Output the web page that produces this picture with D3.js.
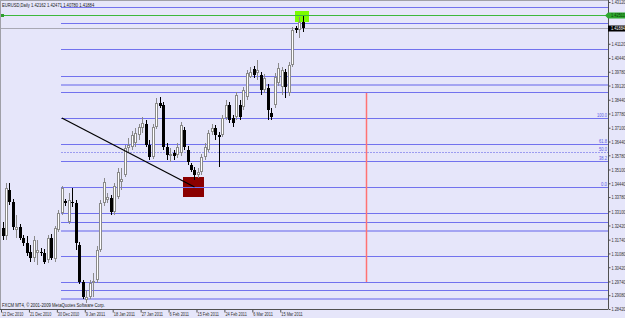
<!DOCTYPE html>
<html>
<head>
<meta charset="utf-8">
<script src="https://cdn.jsdelivr.net/npm/d3@7"></script>
<style>
  body { margin: 0; background: #e6e6fa; }
  svg { display: block; font-family: "Liberation Sans", Arial, sans-serif; }
</style>
</head>
<body>
<div id="container"></div>
<script>
// EURUSD daily bars, 12 Dec 2010 .. 22 Mar 2011 (FXCM, with Sunday bars)
const opens = [1.3230,1.3192,1.3412,1.3354,1.3220,1.3235,1.3182,1.3158,1.3115,1.3086,1.3110,1.3115,1.3110,1.3077,1.3182,1.3081,1.3220,1.3302,1.3359,1.3259,1.3354,1.3350,1.3149,1.2971,1.2885,1.2899,1.2966,1.2981,1.3125,1.3350,1.3364,1.3374,1.3306,1.3378,1.3450,1.3484,1.3613,1.3618,1.3637,1.3675,1.3709,1.3728,1.3627,1.3570,1.3714,1.3829,1.3819,1.3618,1.3575,1.3589,1.3580,1.3589,1.3699,1.3604,1.3532,1.3508,1.3484,1.3498,1.3570,1.3604,1.3690,1.3709,1.3675,1.3675,1.3757,1.3819,1.3757,1.3762,1.3819,1.3809,1.3857,1.3953,1.3991,1.3972,1.3963,1.3891,1.3901,1.3781,1.3819,1.3924,1.3905,1.3977,1.3877,1.4011,1.4188,1.4178,1.4216];
const highs = [1.3259,1.3445,1.3445,1.3369,1.3292,1.3249,1.3196,1.3192,1.3149,1.3192,1.3172,1.3134,1.3129,1.3196,1.3201,1.3239,1.3316,1.3431,1.3369,1.3398,1.3422,1.3364,1.3163,1.2981,1.2933,1.2981,1.3014,1.3144,1.3364,1.3469,1.3398,1.3388,1.3445,1.3517,1.3517,1.3627,1.3661,1.3695,1.3709,1.3728,1.3762,1.3747,1.3651,1.3728,1.3853,1.3857,1.3833,1.3637,1.3613,1.3604,1.3637,1.3738,1.3714,1.3623,1.3541,1.3522,1.3517,1.3584,1.3637,1.3699,1.3728,1.3723,1.3690,1.3771,1.3843,1.3833,1.3771,1.3881,1.3843,1.3905,1.3987,1.4001,1.4006,1.4035,1.3977,1.3968,1.3920,1.3805,1.3972,1.4020,1.4001,1.3991,1.4025,1.4193,1.4197,1.4241,1.4247];
const lows = [1.3172,1.3172,1.3340,1.3220,1.3182,1.3172,1.3144,1.3096,1.3067,1.3067,1.3053,1.3096,1.3057,1.3062,1.3077,1.3067,1.3211,1.3292,1.3335,1.3249,1.3330,1.3125,1.2962,1.2890,1.2871,1.2890,1.2899,1.2966,1.3115,1.3335,1.3350,1.3292,1.3292,1.3369,1.3412,1.3474,1.3594,1.3604,1.3618,1.3651,1.3685,1.3618,1.3556,1.3560,1.3704,1.3805,1.3604,1.3556,1.3546,1.3556,1.3565,1.3575,1.3604,1.3532,1.3498,1.3460,1.3469,1.3484,1.3556,1.3594,1.3675,1.3651,1.3522,1.3666,1.3747,1.3733,1.3714,1.3747,1.3747,1.3795,1.3843,1.3948,1.3948,1.3939,1.3867,1.3877,1.3747,1.3747,1.3805,1.3910,1.3867,1.3853,1.3862,1.4001,1.4164,1.4140,1.4169];
const closes = [1.3192,1.3422,1.3354,1.3235,1.3235,1.3182,1.3158,1.3110,1.3086,1.3172,1.3125,1.3110,1.3067,1.3182,1.3086,1.3230,1.3302,1.3422,1.3350,1.3364,1.3350,1.3158,1.2971,1.2899,1.2899,1.2966,1.2976,1.3125,1.3350,1.3450,1.3378,1.3306,1.3431,1.3498,1.3465,1.3613,1.3627,1.3675,1.3685,1.3714,1.3733,1.3627,1.3570,1.3714,1.3829,1.3814,1.3618,1.3580,1.3584,1.3575,1.3618,1.3723,1.3618,1.3546,1.3508,1.3484,1.3498,1.3570,1.3618,1.3685,1.3709,1.3675,1.3666,1.3757,1.3819,1.3747,1.3733,1.3867,1.3762,1.3891,1.3972,1.3977,1.3963,1.3987,1.3891,1.3948,1.3795,1.3762,1.3953,1.3996,1.3987,1.3905,1.4011,1.4178,1.4178,1.4217,1.4188];

const dateLabels = ['12 Dec 2010', '21 Dec 2010', '30 Dec 2010', '9 Jan 2011', '18 Jan 2011', '27 Jan 2011',
  '6 Feb 2011', '15 Feb 2011', '24 Feb 2011', '6 Mar 2011', '15 Mar 2011'];
const labelBars = [0, 8, 16, 24, 32, 40, 48, 56, 64, 72, 80];

const priceTicks = [1.43120, 1.42460, 1.41780, 1.41120, 1.40440, 1.39780, 1.39120, 1.38440, 1.37780, 1.37100,
  1.36440, 1.35780, 1.35100, 1.34440, 1.33780, 1.33100, 1.32420, 1.31740, 1.31080, 1.30420, 1.29740, 1.29080, 1.28420];

// horizontal levels drawn on the chart
const levels = [1.4289, 1.4212, 1.4087, 1.3958, 1.3881, 1.3302, 1.3258, 1.3096, 1.2971, 1.2933];
const levelsLight = [1.3920, 1.3220, 1.2895];

// fibonacci retracement: 100 at first anchor, 0 at second
const fibAnchor1 = [17, 1.3757];
const fibAnchor2 = [55, 1.3426];
const fibRatios = [0, 0.382, 0.5, 0.618, 1];
const fibNames = ['0.0', '38.2', '50.0', '61.8', '100.0'];

const greenLine = 1.42511;
const bidPrice = 1.41884;
const redBox = [51.6, 57.6, 1.3474, 1.3378];
const greenBox = [83.8, 87.8, 1.4269, 1.4217];
const redVLine = [104, 1.3877, 1.2971];

const w = 625;
const h = 318;
const right = 608;
const bottom = 309;
const fs = 5.5;

// squeeze the tiny terminal font to the widths seen in the screenshot
function fit(sel, perChar) {
  sel.each(function () {
    const t = d3.select(this);
    const x = +t.attr('x') || 0;
    const target = this.textContent.length * perChar;
    const natural = this.getComputedTextLength();
    const s = natural > 0 ? Math.min(1, target / natural) : 1;
    t.attr('x', 0).attr('transform', `translate(${x},0) scale(${s},1)`);
  });
}

const svg = d3.select('#container').append('svg').attr('width', w).attr('height', h);

svg.append('rect').attr('width', w).attr('height', h).attr('fill', '#e6e6fa');

const xScale = d3.scaleLinear().domain([0, 86]).range([2.5, 302.7]);
const yScale = d3.scaleLinear().domain([1.2842, 1.4312]).range([bottom, 2]);
const px = v => Math.round(xScale(v));
const py = v => Math.round(yScale(v));

const chart = svg.append('g');

// rectangles sit behind the bars
chart.append('rect')
  .attr('x', px(redBox[0])).attr('y', py(redBox[2]))
  .attr('width', px(redBox[1]) - px(redBox[0]))
  .attr('height', py(redBox[3]) - py(redBox[2]))
  .attr('fill', '#8b0000');
chart.append('rect')
  .attr('x', px(greenBox[0])).attr('y', py(greenBox[2]))
  .attr('width', px(greenBox[1]) - px(greenBox[0]))
  .attr('height', py(greenBox[3]) - py(greenBox[2]))
  .attr('fill', '#7cfc00');

const x0 = px(fibAnchor1[0]) - 1;

chart.selectAll('.lvl')
  .data(levels)
  .enter()
  .append('line')
  .attr('class', 'lvl')
  .attr('x1', x0).attr('x2', right)
  .attr('y1', d => py(d) + 0.5).attr('y2', d => py(d) + 0.5)
  .attr('stroke', '#7272ee');

chart.selectAll('.lvl-light')
  .data(levelsLight)
  .enter()
  .append('line')
  .attr('class', 'lvl-light')
  .attr('x1', x0).attr('x2', right)
  .attr('y1', d => py(d) + 1).attr('y2', d => py(d) + 1)
  .attr('stroke', '#a4a4f2')
  .attr('stroke-width', 2);

const fibLevels = fibRatios.map(r => fibAnchor2[1] + r * (fibAnchor1[1] - fibAnchor2[1]));

chart.selectAll('.fib')
  .data(fibLevels)
  .enter()
  .append('line')
  .attr('class', 'fib')
  .attr('x1', x0).attr('x2', right)
  .attr('y1', d => py(d) + 0.5).attr('y2', d => py(d) + 0.5)
  .attr('stroke', (d, i) => (fibRatios[i] === 0.5 ? '#9c9cf0' : '#7272ee'))
  .attr('stroke-dasharray', (d, i) => (fibRatios[i] === 0.5 ? '2,1' : null));

const fibText = chart.selectAll('.fib-label')
  .data(fibLevels)
  .enter()
  .append('text')
  .attr('class', 'fib-label')
  .attr('x', right - 1)
  .attr('y', d => py(d) - 1)
  .attr('text-anchor', 'end')
  .attr('font-size', fs)
  .attr('fill', '#5a5ae6')
  .text((d, i) => fibNames[i]);
fit(fibText, 2);

// green horizontal line + bid line
chart.append('line')
  .attr('x1', 1).attr('x2', right)
  .attr('y1', py(greenLine) + 0.5).attr('y2', py(greenLine) + 0.5)
  .attr('stroke', '#3cb83c');
chart.append('rect')
  .attr('x', 1).attr('y', py(greenLine) - 1).attr('width', 3).attr('height', 3)
  .attr('fill', '#2e9e2e');
chart.append('line')
  .attr('x1', 1).attr('x2', right)
  .attr('y1', py(bidPrice) + 0.5).attr('y2', py(bidPrice) + 0.5)
  .attr('stroke', '#a8a8b4');

// red vertical line
chart.append('line')
  .attr('x1', px(redVLine[0]) + 0.5).attr('x2', px(redVLine[0]) + 0.5)
  .attr('y1', py(redVLine[1])).attr('y2', py(redVLine[2]))
  .attr('stroke', '#ff7272')
  .attr('stroke-width', 1.5);

// candles
const bars = opens.map((o, i) => ({ i, o, h: highs[i], l: lows[i], c: closes[i] }));

const candle = chart.selectAll('.candle')
  .data(bars)
  .enter()
  .append('g')
  .attr('class', 'candle');

candle.append('rect')
  .attr('x', d => px(d.i))
  .attr('y', d => py(d.h))
  .attr('width', 1)
  .attr('height', d => Math.max(1, py(d.l) - py(d.h)))
  .attr('fill', d => (d.c >= d.o ? '#8a8a8a' : '#000'));

candle.append('rect')
  .attr('x', d => px(d.i) - 1)
  .attr('y', d => py(Math.max(d.o, d.c)))
  .attr('width', 3)
  .attr('height', d => Math.max(1, py(Math.min(d.o, d.c)) - py(Math.max(d.o, d.c))))
  .attr('fill', d => (d.c >= d.o ? '#8a8a8a' : '#000'));

candle.filter(d => d.c >= d.o && py(d.o) - py(d.c) > 2)
  .append('rect')
  .attr('x', d => px(d.i))
  .attr('y', d => py(d.c) + 1)
  .attr('width', 1)
  .attr('height', d => py(d.o) - py(d.c) - 2)
  .attr('fill', '#fff');

// fibo trend line
chart.append('line')
  .attr('x1', xScale(fibAnchor1[0])).attr('y1', yScale(fibAnchor1[1]))
  .attr('x2', xScale(fibAnchor2[0])).attr('y2', yScale(fibAnchor2[1]))
  .attr('stroke', '#000')
  .attr('stroke-width', 1.2);

// frame
svg.append('line').attr('x1', 0).attr('x2', right).attr('y1', 0.5).attr('y2', 0.5).attr('stroke', '#a0a0a8');
svg.append('line').attr('x1', 0.5).attr('x2', 0.5).attr('y1', 0).attr('y2', bottom).attr('stroke', '#a0a0a8');

// axes
const xAxis = d3.axisBottom(xScale)
  .tickValues(labelBars)
  .tickSize(3)
  .tickFormat((d, i) => dateLabels[i]);

const gx = svg.append('g')
  .attr('transform', `translate(0, ${bottom + 0.5})`)
  .call(xAxis)
  .attr('font-family', null);
gx.select('.domain').attr('d', `M0,0H${right}`).attr('stroke', '#505050');
gx.selectAll('.tick line').attr('stroke', '#505050').attr('transform', 'translate(-1.5,0)');
const xText = gx.selectAll('.tick text')
  .attr('text-anchor', 'start')
  .attr('x', -1)
  .attr('y', 3)
  .attr('font-size', fs)
  .attr('fill', '#303030');
fit(xText, 1.95);

// the two tick labels hidden under the price markers are not drawn
const markerY = [yScale(greenLine), yScale(bidPrice)];
const yAxis = d3.axisRight(yScale)
  .tickValues(priceTicks.filter(p => markerY.every(m => Math.abs(yScale(p) - m) > 4)))
  .tickSize(2)
  .tickFormat(d3.format('.5f'));

const gy = svg.append('g')
  .attr('transform', `translate(${right + 0.5}, 0)`)
  .call(yAxis)
  .attr('font-family', null);
gy.select('.domain').attr('d', `M0,0V${bottom}`).attr('stroke', '#505050');
gy.selectAll('.tick line').attr('stroke', '#505050');
const yText = gy.selectAll('.tick text')
  .attr('x', 3)
  .attr('font-size', fs)
  .attr('fill', '#303030');
fit(yText, 2.0);

// price labels on the axis
const gy1 = py(greenLine);
svg.append('path')
  .attr('d', `M${right - 3},${gy1 + 0.5}L${right},${gy1 - 2.5}H${w}V${gy1 + 3.5}H${right}Z`)
  .attr('fill', '#2ea82e');
fit(svg.append('text')
  .attr('x', right + 3).attr('y', gy1 + 2.5)
  .attr('font-size', fs).attr('fill', '#0a3a0a')
  .text(d3.format('.5f')(greenLine)), 2.0);

const by = py(bidPrice);
svg.append('rect')
  .attr('x', right).attr('y', by - 2.5).attr('width', w - right).attr('height', 6)
  .attr('fill', '#000');
fit(svg.append('text')
  .attr('x', right + 3).attr('y', by + 2.5)
  .attr('font-size', fs).attr('fill', '#fff')
  .text(d3.format('.5f')(bidPrice)), 2.0);

// captions
fit(svg.append('text')
  .attr('x', 2).attr('y', 7)
  .attr('font-size', fs).attr('fill', '#202020')
  .text('EURUSD,Daily 1.42162 1.42471 1.40780 1.41884'), 2.1);

fit(svg.append('text')
  .attr('x', 2).attr('y', 307)
  .attr('font-size', fs).attr('fill', '#202020')
  .text('FXCM MT4, © 2001-2009 MetaQuotes Software Corp.'), 2.2);
</script>
</body>
</html>
